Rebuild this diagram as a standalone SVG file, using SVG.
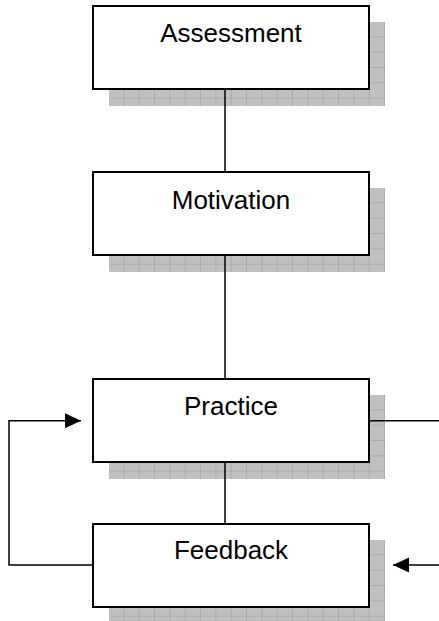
<svg xmlns="http://www.w3.org/2000/svg" width="439" height="621" viewBox="0 0 439 621">
<style>
.box{fill:#fff;stroke:#000;stroke-width:2}
.shadow{fill:url(#grid)}
.lbl{font-family:"Liberation Sans",Arial,sans-serif;font-size:26px;fill:#000;text-anchor:middle}
.conn{fill:none;stroke:#000;stroke-width:1.5}
</style>
<defs>
<pattern id="grid" patternUnits="objectBoundingBox" width="0.05556" height="0.18254">
<rect x="0" y="0" width="15.34" height="15.34" fill="#c0c0c0"/>
<path d="M0 15.33H15.34M15.33 0V15.34" stroke="#999" stroke-width="1" fill="none"/>
</pattern>
<marker id="arr" markerUnits="userSpaceOnUse" markerWidth="17" markerHeight="16" refX="16" refY="8" orient="auto">
<path d="M0 0.5L16 8L0 15.5Z" fill="#000"/>
</marker>
</defs>
<g id="assessment">
<rect class="shadow" x="109" y="22" width="276" height="84"/>
<rect class="box" x="93" y="6" width="276" height="83"/>
<text class="lbl" x="231" y="42">Assessment</text>
</g>
<g id="motivation">
<rect class="shadow" x="109" y="188" width="276" height="84"/>
<rect class="box" x="93" y="172" width="276" height="83"/>
<text class="lbl" x="231" y="209">Motivation</text>
</g>
<g id="practice">
<rect class="shadow" x="109" y="395" width="276" height="84"/>
<rect class="box" x="93" y="379" width="276" height="83"/>
<text class="lbl" x="231" y="415">Practice</text>
</g>
<g id="feedback">
<rect class="shadow" x="109" y="540" width="276" height="84"/>
<rect class="box" x="93" y="524" width="276" height="83"/>
<text class="lbl" x="231" y="559">Feedback</text>
</g>
<g id="connectors">
<path class="conn" d="M93 565H9V420.7H81" marker-end="url(#arr)"/>
<path class="conn" d="M369 420.7H439"/>
<path class="conn" d="M439 565H393" marker-end="url(#arr)"/>
<path class="conn" d="M225 89V172"/>
<path class="conn" d="M225 255V379"/>
<path class="conn" d="M225 462V524"/>
</g>
</svg>
